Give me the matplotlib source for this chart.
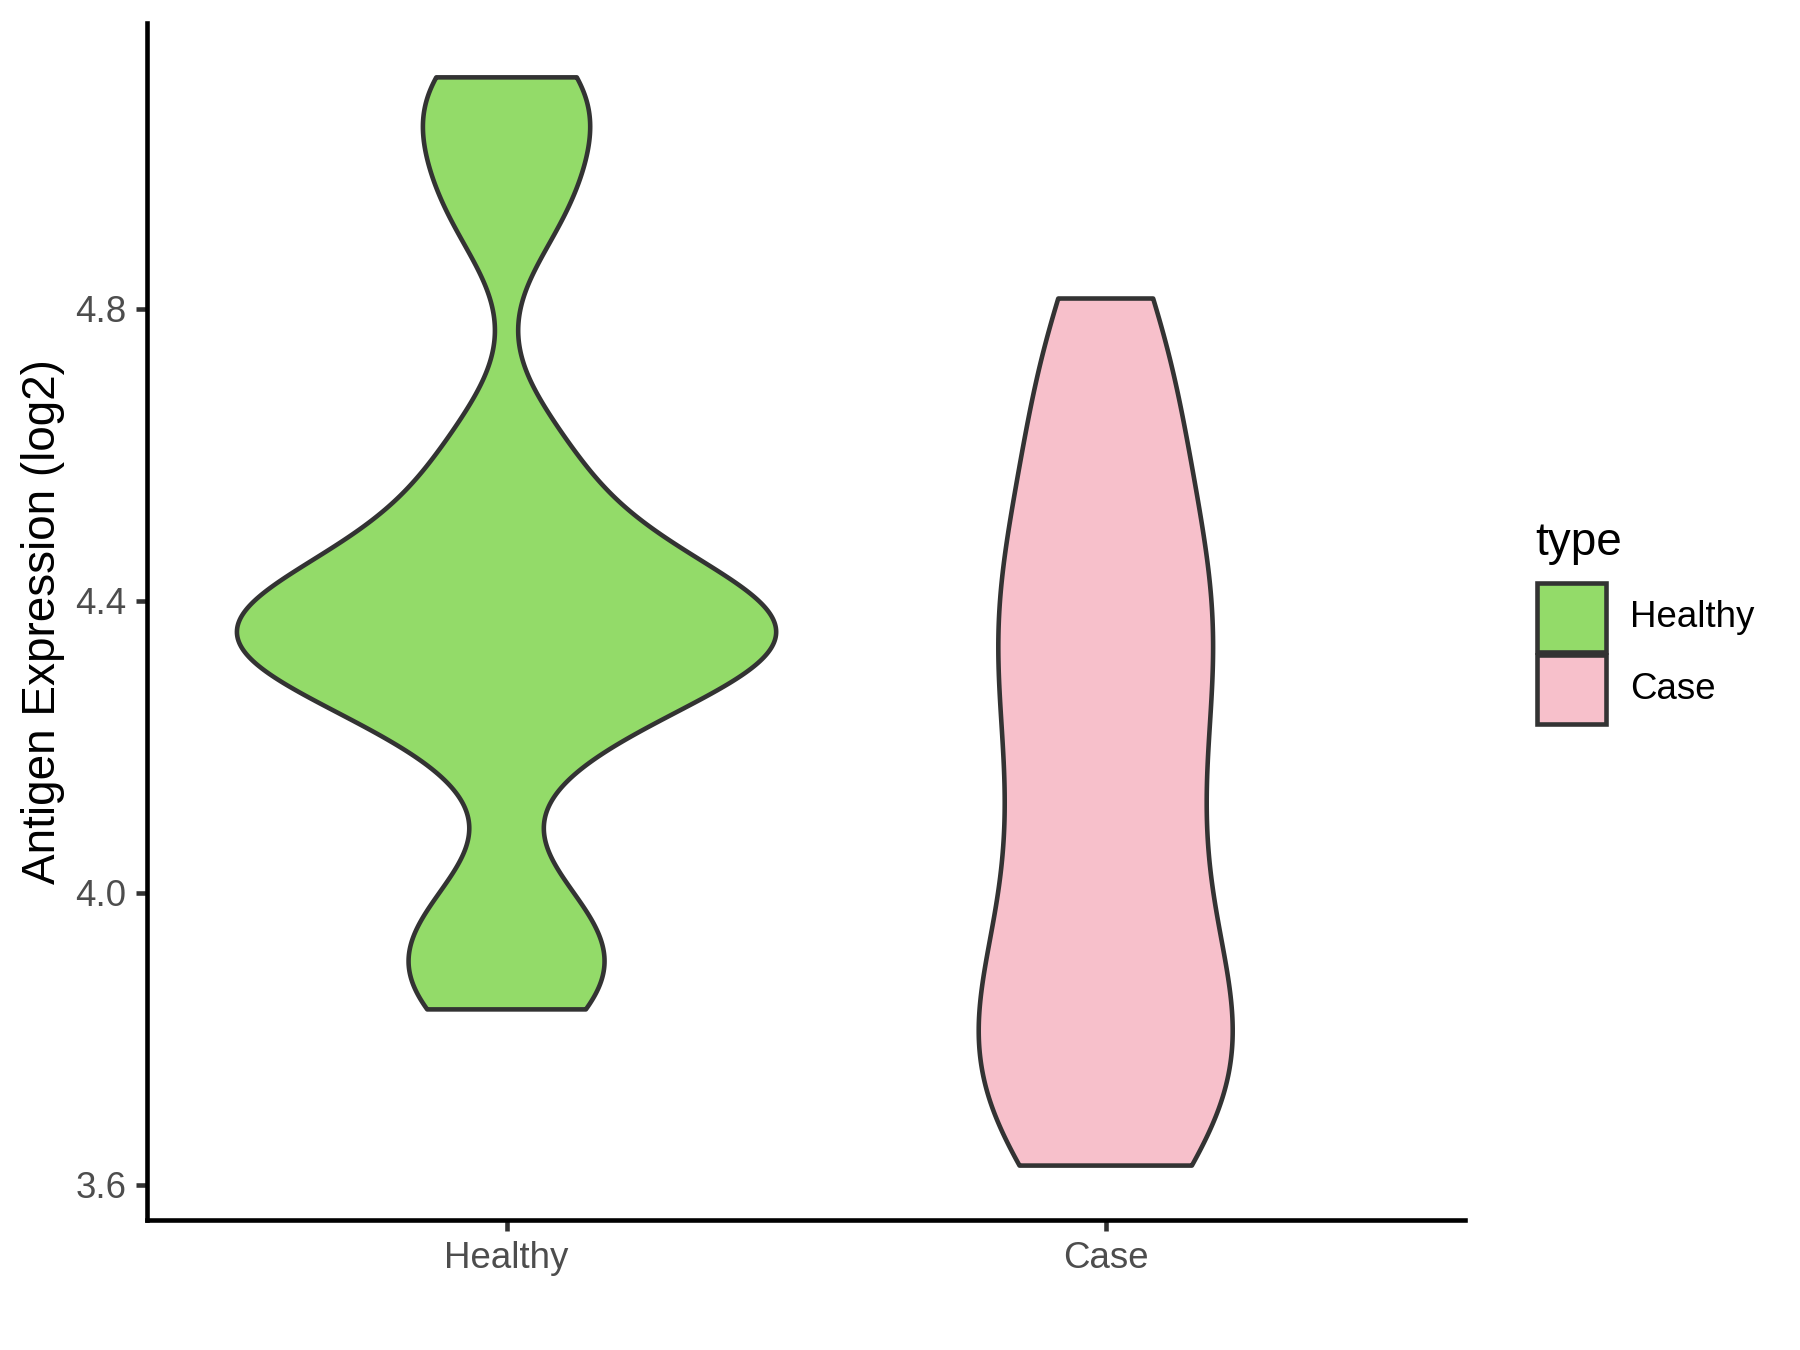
import numpy as np
import matplotlib
matplotlib.use("Agg")
import matplotlib.pyplot as plt
from matplotlib.patches import Rectangle

plt.rcParams['font.family'] = ['Liberation Sans', 'DejaVu Sans']

groups = ["Healthy", "Case"]
colors = ["#93DB69", "#F7C0CB"]

healthy = [3.84, 3.88, 3.93, 3.99,
           4.20, 4.26, 4.29, 4.31, 4.33, 4.35, 4.36, 4.37, 4.39, 4.41, 4.44, 4.48, 4.54, 4.62,
           4.92, 5.00, 5.08, 5.117]
case = [3.626, 3.66, 3.71, 3.76, 3.80, 3.84, 3.89, 3.95, 4.03, 4.10, 4.17, 4.24, 4.31,
        4.36, 4.41, 4.47, 4.55, 4.63, 4.72, 4.814]
bandwidth = [0.08, 0.14]

yticks = [3.6, 4.0, 4.4, 4.8]


def kde(vals, bw, grid):
    vals = np.asarray(vals)
    z = (grid[:, None] - vals[None, :]) / bw
    return np.exp(-0.5 * z ** 2).sum(1) / (len(vals) * bw * np.sqrt(2 * np.pi))


fig = plt.figure(figsize=(6, 4.5), dpi=300)
ax = fig.add_axes([0.0817, 0.0963, 0.814 - 0.0817, 0.983 - 0.0963])

dens = []
for vals, bw in zip([healthy, case], bandwidth):
    grid = np.linspace(min(vals), max(vals), 512)
    dens.append((grid, kde(vals, bw, grid)))
dmax = max(d.max() for g, d in dens)

for i, ((grid, d), col) in enumerate(zip(dens, colors)):
    w = 0.45 * d / dmax
    xs = np.concatenate([i + 1 - w, (i + 1 + w)[::-1]])
    ys = np.concatenate([grid, grid[::-1]])
    ax.fill(xs, ys, facecolor=col, edgecolor="#333333", linewidth=1.1, joinstyle="round")

allv = healthy + case
lo, hi = min(allv), max(allv)
pad = 0.05 * (hi - lo)
ax.set_ylim(lo - pad, hi + pad)
ax.set_xlim(0.4, 2.6)
ax.set_xticks([1, 2])
ax.set_xticklabels(groups)
ax.set_yticks(yticks)
ax.set_yticklabels([f"{v:.1f}" for v in yticks])

for s in ["top", "right"]:
    ax.spines[s].set_visible(False)
for s in ["left", "bottom"]:
    ax.spines[s].set_linewidth(1.1)
    ax.spines[s].set_color("black")
ax.tick_params(length=2.75, width=1.1, color="#333333", labelcolor="#4D4D4D",
               labelsize=8.8, pad=2.2)
ax.set_ylabel("Antigen Expression (log2)", fontsize=11, color="black")
ax.yaxis.set_label_coords(-0.062, 0.5)

# legend
fig.text(0.853, 0.589, "type", fontsize=11, va="baseline", ha="left")
key_y = [0.517, 0.4637]
for col, g, y0 in zip(colors, groups, key_y):
    fig.patches.append(Rectangle((0.854, y0), 0.0383, 0.0511, transform=fig.transFigure,
                                 facecolor=col, edgecolor="#333333", linewidth=1.1))
    fig.text(0.9055, y0 + 0.0511 / 2, g, fontsize=8.8, va="center", ha="left")

fig.savefig("out.png", dpi=300)
